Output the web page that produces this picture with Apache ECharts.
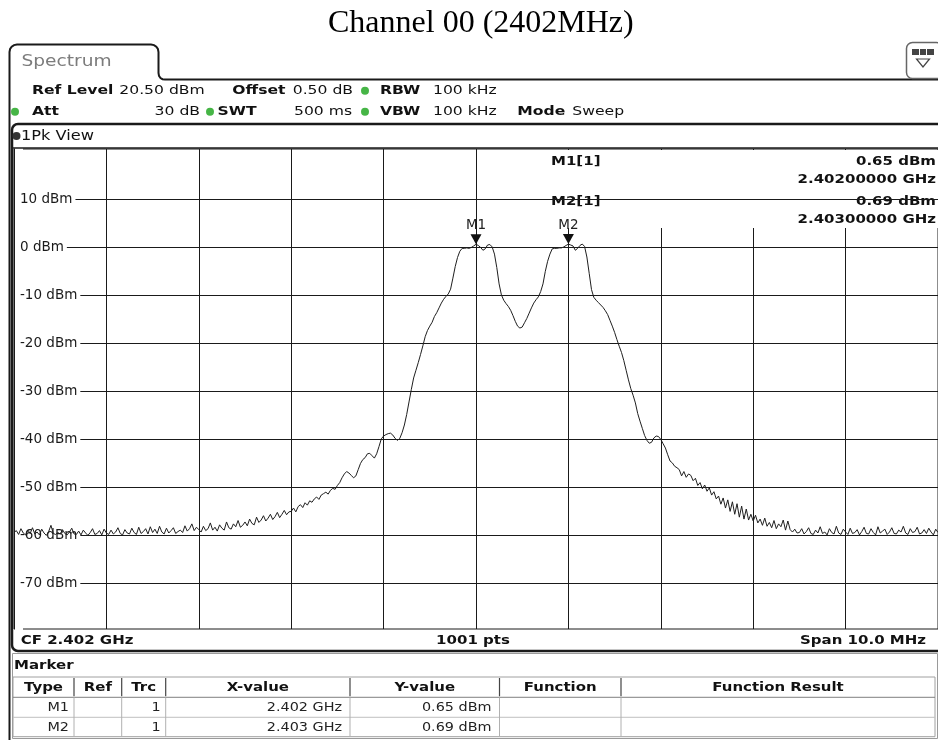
<!DOCTYPE html>
<html><head><meta charset="utf-8">
<script src="https://cdn.jsdelivr.net/npm/echarts@6/dist/echarts.min.js"></script>
<style>html,body{margin:0;padding:0;background:#fff}#c{width:938px;height:740px}</style>
</head><body><div id="c"></div>
<script>
// ---------------- data ----------------
const TITLE = 'Channel 00 (2402MHz)';
const START_MHZ = 2397;
const STOP_MHZ = 2407;
const X_DIV_MHZ = 1;
const REF_LEVEL = 20.5;
const BOTTOM_LEVEL = -79.5;
const OFFSET_DB = 0.5;
const SWEEP_POINTS = 1001;
const Y_GRID = [10, 0, -10, -20, -30, -40, -50, -60, -70];
// trace levels (dBm), equally spaced from START_MHZ to STOP_MHZ
const LEVELS = [
-59.4,-59.0,-59.8,-58.6,-59.5,-59.9,-58.9,-59.6,-58.4,-59.7,-59.3,-59.9,-58.7,-59.5,-60.0,-59.2,-57.9,-59.6,-59.8,-59.4,
-59.7,-58.8,-59.6,-59.9,-59.3,-58.5,-59.7,-59.8,-59.1,-59.9,-58.9,-59.5,-60.0,-59.4,-58.6,-59.8,-59.6,-59.0,-59.9,-58.7,
-59.5,-59.8,-58.9,-59.7,-59.3,-58.4,-59.6,-59.9,-58.8,-59.5,-59.7,-58.5,-59.4,-59.8,-58.3,-59.6,-59.2,-58.6,-59.7,-58.2,
-59.4,-58.7,-59.6,-58.1,-59.3,-59.7,-58.5,-59.5,-59.0,-58.4,-59.6,-59.2,-58.9,-59.4,-58.0,-59.1,-58.6,-57.6,-59.0,-58.3,
-58.8,-59.3,-58.1,-59.0,-58.6,-57.4,-58.9,-58.3,-59.1,-57.8,-58.5,-58.9,-57.2,-58.4,-58.7,-57.6,-58.2,-56.9,-58.3,-57.9,
-57.2,-58.0,-56.6,-57.5,-57.8,-56.2,-57.3,-56.8,-55.9,-57.0,-56.4,-55.6,-56.7,-56.1,-55.2,-56.3,-55.6,-54.8,-55.7,-55.1,
-55.0,-54.3,-55.1,-54.0,-53.6,-54.2,-53.2,-53.7,-52.8,-53.1,-52.4,-52.0,-52.5,-51.6,-51.3,-51.0,-51.4,-50.6,-50.2,-50.4,
-49.6,-49.0,-48.0,-47.2,-46.7,-47.0,-47.5,-48.0,-47.6,-46.3,-45.0,-44.2,-43.8,-43.0,-42.9,-43.4,-43.9,-43.0,-41.5,-39.9,
-39.3,-39.0,-38.8,-38.7,-39.1,-39.8,-40.2,-39.8,-38.6,-37.0,-34.8,-32.2,-29.6,-27.2,-25.6,-24.0,-22.3,-20.5,-18.6,-17.3,
-16.4,-15.6,-14.4,-13.6,-12.6,-11.6,-10.8,-10.2,-9.7,-8.7,-6.4,-4.0,-2.1,-0.8,-0.2,-0.2,-0.1,-0.2,0.0,0.3,
0.65,0.4,0.0,-0.6,-0.3,0.5,0.6,0.1,-1.4,-4.2,-7.6,-9.9,-11.0,-11.7,-12.3,-13.1,-14.2,-15.4,-16.4,-16.8,
-16.6,-15.7,-14.8,-13.7,-12.6,-11.6,-10.9,-10.3,-9.2,-7.6,-5.0,-2.9,-1.4,-0.3,-0.2,-0.2,-0.1,-0.1,0.1,0.4,
0.69,0.5,0.3,-0.6,-0.2,0.4,0.7,0.2,-2.0,-5.4,-8.8,-10.4,-11.0,-11.5,-12.0,-12.5,-13.2,-14.0,-15.2,-16.4,
-17.7,-19.2,-20.6,-21.9,-23.6,-25.6,-27.6,-29.4,-30.8,-32.4,-34.6,-36.2,-37.7,-39.2,-40.2,-40.8,-40.6,-39.7,-39.3,-39.4,
-40.0,-40.9,-41.8,-43.2,-44.5,-44.9,-45.6,-45.9,-46.3,-47.6,-46.7,-47.9,-47.2,-47.5,-48.6,-48.1,-49.6,-49.0,-50.3,-49.5,
-50.8,-50.1,-51.6,-50.9,-52.4,-51.8,-53.5,-52.2,-54.3,-52.6,-55.0,-53.0,-55.6,-53.4,-56.2,-53.9,-56.6,-54.5,-56.8,-55.6,
-57.0,-55.8,-57.4,-56.6,-57.9,-56.4,-58.1,-57.3,-58.4,-56.9,-58.6,-57.6,-58.2,-56.8,-58.9,-57.0,-58.8,-59.3,-58.7,-59.5,
-59.4,-58.6,-59.7,-59.2,-58.4,-59.6,-59.8,-58.9,-59.5,-58.2,-59.6,-59.3,-59.9,-58.6,-59.4,-59.7,-58.1,-59.5,-59.8,-58.7,
-59.3,-59.8,-58.5,-59.6,-59.4,-58.8,-59.9,-59.2,-58.3,-59.6,-59.7,-58.6,-59.4,-59.9,-58.2,-59.5,-59.1,-58.7,-59.8,-59.3,
-58.4,-59.6,-59.7,-58.9,-59.3,-58.1,-59.5,-59.8,-58.6,-59.4,-59.2,-58.3,-59.7,-59.5,-58.8,-59.6,-58.5,-59.3,-59.9,-58.7,
-59.4
];
const MARKER_NAMES = ['M1', 'M2'];
const MARKER_FREQ_MHZ = [2402, 2403];
const MARKER_LEVEL = [0.65, 0.69];
const TABLE_HEAD = ['Type', 'Ref', 'Trc', 'X-value', 'Y-value', 'Function', 'Function Result'];

// ---------------- build ----------------
const n = LEVELS.length;
const trace = LEVELS.map((v, i) => [START_MHZ + (i * (STOP_MHZ - START_MHZ)) / (n - 1), v]);

const FONT = '"DejaVu Sans", sans-serif';
function txt(x, y, s, o) {
  o = o || {};
  const align = o.align || 'left';
  return {
    type: 'text', x: x, y: y, z: o.z || 10, silent: true,
    scaleX: o.sx == null ? 1.2 : o.sx,
    style: {
      text: s, fill: o.color || '#111',
      font: (o.bold ? 'bold ' : '') + (o.size || 13) + 'px ' + FONT,
      align: align, textAlign: align,
      verticalAlign: 'middle', textVerticalAlign: 'middle'
    }
  };
}
function ln(x1, y1, x2, y2, color, w, z) {
  return { type: 'line', z: z || 9, silent: true, shape: { x1, y1, x2, y2 }, style: { stroke: color, lineWidth: w } };
}
function dot(cx, cy, color) {
  return { type: 'circle', z: 10, silent: true, shape: { cx, cy, r: 4 }, style: { fill: color } };
}
const GREEN = '#46b546';
const G = [];
// tab + outer frame
G.push({ type: 'polyline', z: 9, silent: true,
  shape: { points: [[9.5,740],[9.5,52],[10.1,49],[11.7,46.7],[14,45.1],[17,44.5],[151,44.5],[154,45.1],[156.3,46.7],[157.9,49],[158.5,52],[158.5,73],[159,75.9],[160.5,78],[162.5,79.2],[165,79.5],[938,79.5]] },
  style: { stroke: '#1a1a1a', lineWidth: 2, fill: null } });
G.push(txt(21.5, 62, 'Spectrum', { size: 15.5, color: '#7c7c7c' }));
// top-right icon
G.push({ type: 'rect', z: 9, silent: true, shape: { x: 906.5, y: 42.5, width: 36, height: 36, r: 6 }, style: { fill: '#fff', stroke: '#666', lineWidth: 1.5 } });
G.push({ type: 'rect', z: 10, silent: true, shape: { x: 912, y: 49, width: 22, height: 6 }, style: { fill: '#444' } });
G.push(ln(919.5, 49, 919.5, 55, '#fff', 1, 11));
G.push(ln(926.5, 49, 926.5, 55, '#fff', 1, 11));
G.push({ type: 'polygon', z: 10, silent: true, shape: { points: [[916.5, 59], [929.5, 59], [923, 67]] }, style: { fill: '#fff', stroke: '#444', lineWidth: 1.2 } });
// header rows
const r1 = 90.7, r2 = 111.7;
G.push(txt(32, r1, 'Ref Level', { bold: true }));
G.push(txt(119.3, r1, REF_LEVEL.toFixed(2) + ' dBm'));
G.push(txt(232.3, r1, 'Offset', { bold: true }));
G.push(txt(292.7, r1, OFFSET_DB.toFixed(2) + ' dB'));
G.push(dot(365, r1, GREEN));
G.push(txt(380, r1, 'RBW', { bold: true }));
G.push(txt(433, r1, '100 kHz'));
G.push(dot(15, r2, GREEN));
G.push(txt(32, r2, 'Att', { bold: true }));
G.push(txt(200, r2, '30 dB', { align: 'right' }));
G.push(dot(210, r2, GREEN));
G.push(txt(217.5, r2, 'SWT', { bold: true }));
G.push(txt(294, r2, '500 ms'));
G.push(dot(365, r2, GREEN));
G.push(txt(380, r2, 'VBW', { bold: true }));
G.push(txt(433, r2, '100 kHz'));
G.push(txt(517.3, r2, 'Mode', { bold: true }));
G.push(txt(572.3, r2, 'Sweep'));
// 1Pk View panel
G.push({ type: 'rect', z: 9, silent: true, shape: { x: 12, y: 124, width: 932, height: 527, r: 6 }, style: { fill: null, stroke: '#1a1a1a', lineWidth: 2.5 } });
G.push(ln(12, 148, 938, 148, '#1a1a1a', 1.5));
G.push(dot(16.5, 136, '#333'));
G.push(txt(21, 136, '1Pk View', { size: 13.5 }));
// marker info box (covers grid lines)
G.push({ type: 'rect', z: 2, silent: true, shape: { x: 551, y: 150, width: 388, height: 78 }, style: { fill: '#fff' } });
MARKER_NAMES.forEach((nm, i) => {
  const y0 = 161.7 + i * 40;
  G.push(txt(551, y0, nm + '[1]', { bold: true, size: 12.5, z: 3 }));
  G.push(txt(936, y0, MARKER_LEVEL[i].toFixed(2) + ' dBm', { bold: true, size: 12.5, align: 'right', z: 3 }));
  G.push(txt(936, y0 + 18.3, (MARKER_FREQ_MHZ[i] / 1000).toFixed(8) + ' GHz', { bold: true, size: 12.5, align: 'right', z: 3 }));
});
// bottom bar
const cf = (START_MHZ + STOP_MHZ) / 2 / 1000;
G.push(txt(20.7, 641, 'CF ' + cf.toFixed(3) + ' GHz', { bold: true, size: 12.5 }));
G.push(txt(473, 641, SWEEP_POINTS + ' pts', { bold: true, size: 12.5, align: 'center' }));
G.push(txt(926, 641, 'Span ' + (STOP_MHZ - START_MHZ).toFixed(1) + ' MHz', { bold: true, size: 12.5, align: 'right' }));
// marker table panel
G.push({ type: 'rect', z: 9, silent: true, shape: { x: 12.5, y: 653.5, width: 925, height: 85 }, style: { fill: null, stroke: '#9a9a9a', lineWidth: 1 } });
G.push(txt(14, 665.7, 'Marker', { bold: true, size: 12.5 }));
const COLX = [13, 74, 121.7, 165.7, 350, 499.5, 621, 935];
const TY = [677, 697.3, 717.3, 736.7];
G.push({ type: 'rect', z: 9, silent: true, shape: { x: 13, y: 677, width: 922, height: 59.7 }, style: { fill: null, stroke: '#a0a0a0', lineWidth: 1 } });
G.push(ln(13, TY[1], 935, TY[1], '#808080', 1));
G.push(ln(13, TY[2], 935, TY[2], '#c0c0c0', 1));
for (let k = 1; k < COLX.length - 1; k++) {
  G.push(ln(COLX[k], TY[0] + 1, COLX[k], TY[1] - 1, '#444', 1.2));
  G.push(ln(COLX[k], TY[1], COLX[k], TY[3], '#b0b0b0', 1));
}
TABLE_HEAD.forEach((h, k) => {
  G.push(txt((COLX[k] + COLX[k + 1]) / 2, 687.3, h, { bold: true, size: 13, sx: 1.15, align: 'center' }));
});
MARKER_NAMES.forEach((nm, i) => {
  const y = 707.3 + i * 20;
  G.push(txt(COLX[1] - 5, y, nm, { size: 12.5, sx: 1.15, align: 'right', color: '#222' }));
  G.push(txt(COLX[3] - 5, y, '1', { size: 12.5, sx: 1.15, align: 'right', color: '#222' }));
  G.push(txt(COLX[4] - 8, y, (MARKER_FREQ_MHZ[i] / 1000).toFixed(3) + ' GHz', { size: 12.5, sx: 1.15, align: 'right', color: '#222' }));
  G.push(txt(COLX[5] - 8, y, MARKER_LEVEL[i].toFixed(2) + ' dBm', { size: 12.5, sx: 1.15, align: 'right', color: '#222' }));
});

const option = {
  animation: false,
  backgroundColor: '#fff',
  title: {
    text: TITLE, left: 328, top: 6, padding: [2, 0, 0, 0],
    textStyle: { fontFamily: '"Liberation Serif", serif', fontSize: 32, fontWeight: 'normal', color: '#000' }
  },
  grid: { left: 14, right: 0, top: 149, bottom: 111, show: true, borderColor: '#1a1a1a', borderWidth: 1, backgroundColor: 'transparent' },
  xAxis: {
    type: 'value', min: START_MHZ, max: STOP_MHZ, interval: X_DIV_MHZ,
    axisLine: { show: false }, axisTick: { show: false }, axisLabel: { show: false },
    splitLine: { show: true, lineStyle: { color: '#1a1a1a', width: 1 } }
  },
  yAxis: {
    type: 'value', min: BOTTOM_LEVEL, max: REF_LEVEL, splitNumber: 10, z: 5,
    axisLine: { show: false }, axisTick: { show: false }, splitLine: { show: false },
    axisLabel: {
      inside: true, margin: 1, color: '#1a1a1a', fontFamily: FONT, fontSize: 13.5,
      backgroundColor: '#fff', padding: [1, 3, 1, 5],
      formatter: v => (Y_GRID.indexOf(v) >= 0 ? v + ' dBm' : '')
    }
  },
  series: [
    {
      type: 'line', data: [], z: 1, silent: true,
      markLine: {
        silent: true, symbol: ['none', 'none'], animation: false,
        label: { show: false },
        lineStyle: { color: '#1a1a1a', width: 1, type: 'solid' },
        emphasis: { disabled: true },
        data: Y_GRID.map(v => ({ yAxis: v }))
      }
    },
    {
      type: 'line', data: trace, z: 6, showSymbol: false, symbol: 'none', silent: true,
      lineStyle: { color: '#1f1f1f', width: 1 },
      markPoint: {
        silent: true, animation: false,
        symbol: 'path://M0,0 L10,0 L5,9 Z', symbolSize: [11, 10], symbolOffset: [0, -5],
        itemStyle: { color: '#111' },
        label: { show: true, position: 'top', distance: 2, formatter: '{b}', color: '#222', fontFamily: FONT, fontSize: 13.5 },
        data: MARKER_NAMES.map((nm, i) => ({ name: nm, coord: [MARKER_FREQ_MHZ[i], MARKER_LEVEL[i]] }))
      }
    }
  ],
  graphic: G
};
const chart = echarts.init(document.getElementById('c'), null, { renderer: 'canvas' });
chart.setOption(option);
</script>
</body></html>
